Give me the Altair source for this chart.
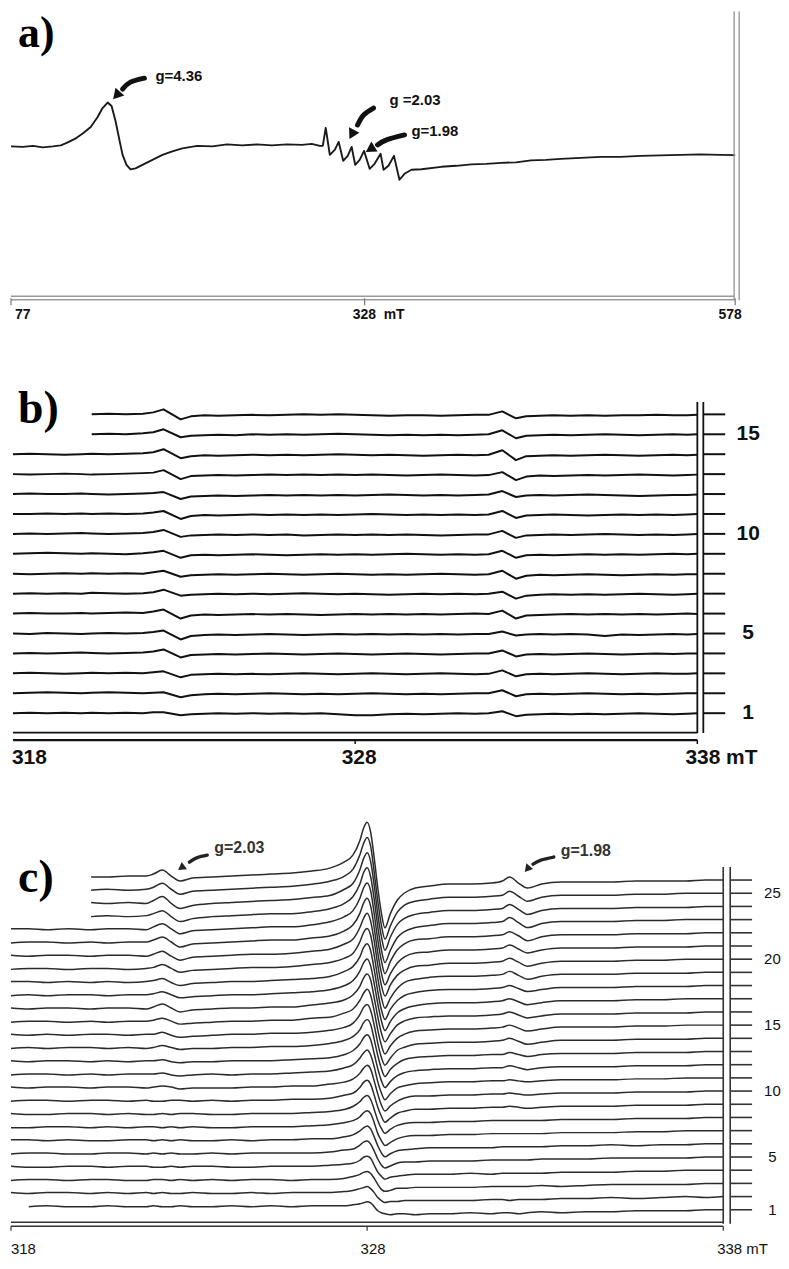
import altair as alt
import pandas as pd

# ======================= DATA =======================
# (a) wide field sweep: magnetic field (mT) and derivative EPR signal (a.u.)
a_field = [77.0, 85.5, 92.6, 99.6, 106.7, 112.4, 117.3, 122.3, 127.9, 133.6,
           138.5, 142.0, 145.6, 148.4, 151.2, 154.1, 156.2, 159.0, 161.8, 165.4,
           170.3, 177.4, 184.5, 191.5, 198.6, 209.2, 219.8, 230.4, 241.0, 251.6,
           262.2, 272.8, 283.5, 290.5, 296.2, 298.3, 300.4, 303.3, 306.8, 309.6,
           312.8, 316.0, 318.8, 321.3, 324.5, 327.6, 331.4, 334.7, 338.8, 340.8,
           344.1, 347.8, 351.5, 354.9, 359.6, 366.3, 379.7, 389.8, 399.9, 410.0,
           420.1, 430.1, 440.2, 450.3, 460.4, 473.8, 487.3, 500.7, 514.2, 527.6,
           541.1, 554.5, 568.0, 578.0]
a_signal = [0.5, 0, 1, -0.5, 0.5, 1.5, 4.5, 8, 13.5, 20,
            30, 39, 44.5, 41, 26, 6, -8, -18, -22.5, -21.5,
            -18, -13, -8, -4.5, -1.5, 1, 0.5, 2.5, 1.5, 2.5,
            1.5, 2.5, 2, 3, 1, 1, 19, -8, -3, 5,
            -14, -9, 0, -18, -13, -4, -22, -17, -7, -23,
            -19, -9, -33, -27, -23, -22.5, -20, -19, -17.5, -17,
            -16, -15.5, -13.5, -13, -12, -11, -10, -10, -9, -8.5,
            -8, -7.5, -8, -8.3]
a_tick_vals = [77, 328, 578]
a_tick_text = ["77", "328\u00a0 mT", "578"]
a_notes = ["g=4.36", "g =2.03", "g=1.98"]

# (b) 16 spectra, 318-338 mT (signal per spectrum, a.u.)
b_field = [318.0, 318.5, 319.0, 319.5, 320.0, 320.3, 320.8, 321.3, 321.8, 322.1,
           322.4, 322.9, 323.2, 323.6, 324.0, 324.5, 325.0, 325.5, 326.0, 326.5,
           327.0, 327.5, 328.0, 328.5, 329.0, 329.5, 330.0, 330.5, 331.0, 331.5,
           331.9, 332.3, 332.7, 333.0, 333.4, 333.8, 334.3, 334.8, 335.3, 335.8,
           336.3, 336.8, 337.3, 337.7, 338.0]
b01 = [0,0.5,0,0.5,0, 0.5,0,0.5,0,1, 1,-2,-1,-0.5,0, -0.5,0,-0.5,0,-0.5, 0,-1,-2,-2,-1, -0.5,-1,-0.5,0,-0.5, 0,2,-3,-1.5,-1, -0.5,-1,-0.5,-1,-0.5, 0,-0.5,-1,-0.5,0]
b02 = [0,0.5,1,0.5,0, 0.5,1,0.5,0,0.5, 1,-4,-2,-1,-0.5, -1,-0.5,0,-0.5,-1, -0.5,-1,-0.5,0,-0.5, -1,-0.5,-1,-0.5,0, 0,3,-3,-1,-0.5, -1,-0.5,0,-0.5,-1, -0.5,-1,-0.5,0,0]
b03 = [0,0.5,0,-0.5,0, 0.5,0,0.5,0,1, 2,-4,-1.5,-1,-0.5, -1,-0.5,-1,-0.5,0, -0.5,-1,-0.5,0,-0.5, -1,-0.5,0,-0.5,-1, -0.5,3,-3,-1,-0.5, -1,-0.5,0,-0.5,-1, -0.5,0,-0.5,-0.5,0]
b04 = [0,0.5,0,0.5,1, 0.5,0,0.5,1,2, 4,-4,-1.5,-1,-0.5, -1,-0.5,0,-0.5,-1, -0.5,0,-0.5,-1,-0.5, 0,-0.5,-1,-0.5,0, 0,3,-3,-1,-0.5, -1,-0.5,0,-0.5,-1, -0.5,0,-0.5,0,0]
b05 = [0,-0.5,0.5,0,-0.5, 0,0.5,0,0.5,1.5, 3,-6,-2.5,-1.5,-1, -1.5,-1,-0.5,-1,-1.5, -1,-0.5,-1,-0.5,-1, -0.5,-1,-0.5,-1,-0.5, -0.5,2,-2,-1,-0.5, -1,-0.5,-1,-2.5,-1, -1.5,-1,-0.5,-1,-0.5]
b06 = [0,0.5,0,0,0.5, 0,0.5,1,0.5,2, 4,-5,-2,-1,-1.5, -1,-0.5,-1,-0.5,-1, -1.5,-1,-0.5,-1,-0.5, -1,-0.5,-1,-0.5,0, -0.5,3,-5,-2,-1.5, -1,-0.5,-1,-0.5,-1, -0.5,-1,-0.5,0,-0.5]
b07 = [0,0.5,0,0.5,0, 1,0.5,0,0.5,1.5, 4,-2,-1,-0.5,0, -0.5,0,-0.5,0,0.5, 0,-0.5,0,-0.5,-1, -0.5,0,-0.5,0,-0.5, 0,2,-5,-2,-1, -0.5,-1,-0.5,-1,-0.5, 0,-0.5,-1,-0.5,0]
b08 = [0,-0.5,0,0.5,0, 0.5,0,0.5,0,1.5, 3,-3,-1.5,-1,-0.5, -1,-0.5,0,-0.5,-1, -0.5,0,-0.5,-1,-0.5, -1,-0.5,0,-0.5,-1, -0.5,3,-5,-2,-1, -1.5,-1,-0.5,-1,-1.5, -1,-0.5,-1,-0.5,-0.5]
b09 = [0,0.5,1,0.5,0, 0.5,0,-0.5,0.5,1.5, 3,-4,-1.5,-1,-1.5, -1,-0.5,-1,-1.5,-1, -0.5,-1,-0.5,-1,-0.5, 0,-0.5,-1,-0.5,-1, -0.5,3,-4,-1.5,-1, -1.5,-1,-0.5,-1,-0.5, -1,-0.5,0,-0.5,0]
b10 = [0,0.5,0,0.5,1, 0.5,0,0.5,1,2, 4,-3,-1.5,-1,-0.5, -1,-0.5,-1,-0.5,-1.5, -1,-0.5,-1,-0.5,-1, -0.5,-1,-1.5,-1,-0.5, -0.5,3,-4,-1.5,-1, -0.5,-1,-0.5,0,-0.5, -1,-0.5,-1,-0.5,0]
b11 = [0,0,0.5,0,0.5, 0,0.5,0,0.5,1.5, 3,-5,-2,-1,-1.5, -1,-0.5,-1,-0.5,-1, -0.5,-1,-0.5,0,-0.5, -1,-0.5,-1,-0.5,-1, -0.5,3,-4,-1.5,-1, -0.5,-1,-1.5,-1,-0.5, -1,-0.5,-1,-0.5,0]
b12 = [0,0.5,0,0,0.5, 0,-0.5,0,0.5,1, 2,-5,-2.5,-2,-1.5, -2,-1.5,-1,-1.5,-1, -1.5,-1,-1.5,-1,-0.5, -1,-1.5,-1,-1.5,-1, -0.5,3,-3,-1.5,-1, -1.5,-1,-0.5,-1,-1.5, -2,-1.5,-1,-1,-0.5]
b13 = [0,-0.5,0,0.5,0, -0.5,0,0.5,1,1.5, 4,-5,-2,-1.5,-1, -1.5,-1,-0.5,-1,-0.5, -1,-0.5,-1,-0.5,-1, -1.5,-1,-0.5,-1,-1.5, -1,2,-6,-2.5,-1.5, -2,-1.5,-1,-1.5,-1, -0.5,-1,-1.5,-1,-0.5]
b14 = [0,0.5,0,-0.5,0, 0.5,0,0.5,1,2, 5,-4,-2,-1,-1.5, -1,-0.5,-1,-0.5,-1, -0.5,0,-0.5,-1,-0.5, -1,-1.5,-1,-0.5,-1, -0.5,4,-6,-2,-1.5, -1,-1.5,-1,-0.5,-1, -1.5,-1,-0.5,-1,-0.5]
b15 = [None,None,None,None,None, 0,0.5,0,1,2, 5,-3,-1.5,-1,-0.5, -1,0,-0.5,0,-0.5, 0,0.5,0,-0.5,-1, -0.5,-1,-0.5,-1,-0.5, 0,4,-4,-1.5,-1, -0.5,-1,-0.5,0,-0.5, -1,-0.5,0,-0.5,0]
b16 = [None,None,None,None,None, 0,0.5,0,0.5,2, 5,-5,-2,-1,-1.5, -1,-0.5,-1,-0.5,0, -0.5,0,-0.5,-1,-1.5, -1,-1,-1.5,-1,-0.5, -0.5,3,-4,-2,-1.5, -1,-1.5,-1,-1.5,-1, -1,-0.5,-1,-1,-0.5]
b_tick_vals = [318, 328, 338]
b_tick_text = ["318", "328", "338 mT"]
b_numbered = [1, 5, 10, 15]

# (c) 26 spectra, 318-338 mT
c_field = [318.0, 318.5, 319.0, 319.6, 320.25, 320.7, 321.3, 321.8, 322.0, 322.25,
           322.5, 322.75, 323.1, 323.65, 324.2, 324.75, 325.3, 325.9, 326.45, 326.95,
           327.35, 327.6, 327.8, 327.9, 328.0, 328.1, 328.2, 328.3, 328.4, 328.5,
           328.65, 328.85, 329.05, 329.35, 329.75, 330.3, 330.9, 331.5, 331.8, 332.0,
           332.25, 332.5, 332.9, 333.45, 334.15, 334.85, 335.55, 336.25, 336.95, 337.5,
           338.0]
c01 = [None,3,4,3,3,4,3,3,4,3, 3,4,3,3,4,3,4,3,4,4, 4,5,6,7,8,7,3,-1,-3,-4, -5,-4,-4,-5,-4,-4,-3,-4,-3,-3, -4,-3,-2,-3,-2,-2,-1,-1,-1,0, 0]
c02 = [4,3,4,4,3,4,3,4,3,4, 3,3,4,3,3,4,3,4,4,4, 5,6,8,9,10,8,4,-1,-4,-6, -5,-5,-4,-4,-4,-4,-4,-3,-3,-4, -3,-3,-3,-2,-2,-1,-2,-1,0,-1, 0]
c03 = [3,4,4,3,4,4,3,3,4,4, 3,4,3,4,3,4,4,3,4,4, 5,7,9,11,12,10,5,-1,-6,-8, -7,-5,-5,-4,-4,-4,-4,-3,-3,-3, -3,-3,-2,-3,-2,-1,-1,-1,-1,0, 0]
c04 = [4,3,3,4,4,3,4,4,3,3, 4,3,4,4,3,3,4,4,4,5, 6,7,10,13,14,12,5,-2,-6,-9, -7,-6,-5,-4,-4,-4,-3,-4,-3,-3, -3,-3,-3,-2,-2,-2,-1,-1,0,0, 0]
c05 = [3,4,4,3,3,4,4,3,4,3, 4,3,3,4,3,4,4,4,4,5, 7,8,12,15,16,13,6,-2,-8,-11, -9,-6,-5,-5,-4,-4,-4,-3,-3,-3, -3,-3,-2,-2,-2,-1,-1,-1,-1,0, 0]
c06 = [4,4,3,4,3,3,4,4,3,4, 3,4,3,3,4,3,4,4,5,5, 7,9,13,16,18,15,7,-2,-9,-13, -10,-7,-6,-5,-4,-4,-4,-4,-3,-3, -3,-3,-3,-2,-2,-1,-2,-1,-1,0, 0]
c07 = [3,3,4,4,3,4,3,4,4,3, 4,3,4,3,3,4,4,4,5,6, 8,10,14,18,20,17,8,-3,-10,-15, -12,-8,-6,-5,-5,-4,-4,-3,-3,-3, -3,-3,-3,-2,-2,-2,-1,-1,0,0, 0]
c08 = [4,3,3,4,4,3,4,3,3,4, 3,4,4,3,3,4,4,4,5,6, 8,11,16,20,22,18,8,-3,-11,-16, -12,-8,-6,-5,-5,-4,-4,-3,-3,-3, -3,-3,-3,-2,-2,-2,-1,-1,-1,0, 0]
c09 = [3,4,4,3,4,4,3,4,3,3, 4,4,3,4,3,4,4,5,5,6, 9,11,17,22,24,20,9,-3,-12,-18, -14,-9,-7,-5,-5,-4,-4,-3,-3,-2, -3,-4,-3,-2,-2,-2,-1,-1,-1,0, 0]
c10 = [4,3,4,4,3,4,4,3,4,5, 4,2,3,3,3,4,4,5,5,7, 9,12,18,23,26,22,10,-3,-14,-20, -15,-10,-7,-5,-5,-4,-4,-3,-3,-2, -3,-4,-3,-2,-2,-2,-1,-1,-1,0, 0]
c11 = [3,4,4,3,4,3,4,4,4,5, 3,2,3,4,3,4,4,5,6,7, 10,13,20,25,28,23,11,-4,-15,-22, -16,-10,-8,-6,-5,-4,-4,-3,-3,-2, -3,-4,-3,-2,-2,-2,-1,-1,0,0, 0]
c12 = [4,3,4,4,3,4,3,4,4,5, 3,2,3,3,4,4,4,5,6,7, 10,14,21,27,30,25,11,-4,-16,-23, -17,-11,-8,-6,-5,-4,-4,-3,-3,-1, -3,-5,-3,-2,-2,-2,-1,-1,-1,0, 0]
c13 = [3,4,3,4,4,3,4,3,4,6, 4,2,3,3,4,4,5,5,6,8, 11,15,22,29,32,27,12,-4,-17,-25, -18,-12,-8,-6,-5,-4,-4,-3,-3,-1, -3,-5,-3,-2,-2,-2,-1,-1,-1,0, 0]
c14 = [4,3,4,3,4,4,3,4,4,6, 3,1,2,3,4,4,5,5,6,8, 11,15,24,31,34,28,13,-5,-19,-27, -20,-12,-9,-6,-5,-4,-4,-3,-2,0, -3,-6,-4,-2,-2,-2,-1,-1,-1,0, 0]
c15 = [3,4,4,3,4,3,4,4,5,7, 4,1,2,3,4,4,5,5,7,8, 12,16,25,32,36,30,14,-5,-20,-29, -21,-13,-9,-6,-5,-4,-4,-3,-2,0, -3,-6,-4,-2,-2,-2,-1,-1,0,0, 0]
c16 = [4,3,4,4,3,4,4,3,5,8, 4,0,2,3,4,4,5,5,7,9, 12,17,26,34,38,32,14,-5,-21,-30, -22,-13,-9,-6,-5,-4,-4,-3,-2,0, -3,-6,-4,-2,-2,-2,-1,-1,-1,0, 0]
c17 = [3,4,3,4,4,3,4,4,5,7, 4,1,2,3,4,4,5,6,7,9, 13,18,28,36,40,33,15,-5,-22,-32, -23,-14,-10,-7,-5,-4,-4,-3,-2,0, -3,-6,-4,-2,-2,-2,-1,-1,0,0, 0]
c18 = [4,4,3,4,3,4,3,4,5,7, 3,0,2,3,4,4,5,6,7,9, 14,19,29,38,42,35,16,-6,-24,-34, -24,-15,-10,-7,-5,-4,-4,-3,-2,0, -3,-6,-4,-2,-2,-2,-1,-1,-1,0, 0]
c19 = [3,4,4,3,4,4,3,4,5,8, 4,0,2,3,4,5,5,6,8,10, 14,19,31,40,44,37,17,-6,-25,-36, -26,-16,-10,-7,-5,-4,-4,-3,-2,1, -3,-7,-4,-2,-2,-2,-1,-1,-1,0, 0]
c20 = [4,3,4,4,3,4,4,3,5,8, 3,-1,2,3,4,5,5,6,8,10, 15,20,32,41,46,38,18,-6,-26,-37, -26,-16,-11,-7,-6,-4,-4,-3,-2,1, -3,-7,-4,-2,-2,-2,-1,-1,0,0, 0]
c21 = [3,4,4,3,4,3,4,4,6,9, 4,-1,2,3,4,5,6,6,8,10, 15,21,33,43,48,40,18,-7,-27,-39, -28,-17,-11,-7,-6,-4,-4,-3,-2,1, -3,-7,-4,-2,-2,-2,-1,-1,-1,0, 0]
c22 = [4,4,3,4,3,4,4,3,6,9, 4,-1,2,3,4,5,6,6,8,11, 16,22,35,45,50,42,19,-7,-28,-41, -29,-17,-11,-7,-6,-4,-4,-3,-2,1, -3,-8,-4,-2,-2,-2,-1,-1,-1,0, 0]
c23 = [None,None,None,None,3,4,3,4,6,9, 3,-2,1,3,4,5,6,6,8,11, 16,23,36,47,52,43,20,-7,-30,-43, -31,-18,-12,-8,-6,-4,-4,-3,-2,2, -3,-8,-4,-2,-2,-2,-1,-1,0,0, 0]
c24 = [None,None,None,None,4,3,4,3,6,10, 3,-2,1,3,4,5,6,7,9,11, 17,23,37,48,54,45,21,-8,-30,-44, -31,-18,-12,-8,-6,-4,-4,-3,-2,2, -3,-8,-4,-2,-2,-2,-1,-1,-1,0, 0]
c25 = [None,None,None,None,3,4,3,4,6,10, 4,-1,2,3,4,5,6,7,9,12, 17,24,39,50,56,47,21,-8,-32,-46, -33,-19,-12,-8,-6,-4,-4,-3,-2,2, -3,-8,-4,-2,-2,-2,-1,-1,0,0, 0]
c26 = [None,None,None,None,3,3,4,4,6,10, 4,-1,2,3,4,5,6,7,9,12, 18,25,40,52,58,48,22,-8,-33,-48, -34,-20,-13,-8,-6,-4,-4,-3,-1,3, -3,-8,-4,-2,-2,-2,-1,-1,-1,0, 0]
c_tick_vals = [318, 328, 338]
c_tick_text = ["318", "328", "338 mT"]
c_numbered = [1, 5, 10, 15, 20, 25]
c_notes = ["g=2.03", "g=1.98"]

# ======================= BUILD =======================
B_STEP = 20.0
C_STEP = 13.24
b_traces = [b01, b02, b03, b04, b05, b06, b07, b08, b09, b10, b11, b12, b13, b14, b15, b16]
c_traces = [c01, c02, c03, c04, c05, c06, c07, c08, c09, c10, c11, c12, c13,
            c14, c15, c16, c17, c18, c19, c20, c21, c22, c23, c24, c25, c26]


def stack(field, traces, step):
    rows = []
    for k, tr in enumerate(traces, start=1):
        for f, v in zip(field, tr):
            if v is not None:
                rows.append({"x": f, "y": (k - 1) * step + v, "trace": k})
    return pd.DataFrame(rows)


W = 773
HA, HB, HC = 352, 430, 470

xa = alt.Scale(domain=[77, 328, 578, 609], range=[0, 355, 727, 773], nice=False, zero=False)
ya = alt.Scale(domain=[-216, 136], nice=False, zero=False)
xb = alt.Scale(domain=[317.942, 340.445], nice=False, zero=False)
yb = alt.Scale(domain=[-77.5, 352.5], nice=False, zero=False)
xc = alt.Scale(domain=[318, 339.622], nice=False, zero=False)
yc = alt.Scale(domain=[-49, 421], nice=False, zero=False)


def exy(xs, ys):
    return dict(x=alt.X("x:Q", scale=xs, axis=None), y=alt.Y("y:Q", scale=ys, axis=None))


def hlines(xs, ys, x0, x1, yv, color, w):
    d = pd.DataFrame({"x": [x0] * len(yv), "x2": [x1] * len(yv), "y": yv})
    return alt.Chart(d).mark_rule(color=color, strokeWidth=w).encode(**exy(xs, ys), x2="x2:Q")


def vlines(xs, ys, xv, y0, y1, color, w):
    d = pd.DataFrame({"x": xv, "y": [y0] * len(xv), "y2": [y1] * len(xv)})
    return alt.Chart(d).mark_rule(color=color, strokeWidth=w).encode(**exy(xs, ys), y2="y2:Q")


def texts(xs, ys, xv, yv, tv, align="left", dx=0, size=14, weight="bold",
          font="Liberation Sans", color="#111", baseline="middle"):
    d = pd.DataFrame({"x": xv, "y": yv, "t": tv})
    return alt.Chart(d).mark_text(align=align, baseline=baseline, dx=dx, fontSize=size,
                                  fontWeight=weight, font=font, color=color).encode(
        **exy(xs, ys), text="t:N")


def arrow(xs, ys, xv, yv, hx, hy, angle, color="#111", w=4.0, size=90):
    d = pd.DataFrame({"x": xv, "y": yv, "i": list(range(len(xv)))})
    shaft = alt.Chart(d).mark_line(color=color, strokeWidth=w, strokeCap="round",
                                   interpolate="cardinal").encode(**exy(xs, ys), order="i:Q")
    h = pd.DataFrame({"x": [hx], "y": [hy]})
    head = alt.Chart(h).mark_point(shape="triangle", filled=True, size=size, angle=angle,
                                   color=color, opacity=1).encode(**exy(xs, ys))
    return [shaft, head]


# ---------- panel a ----------
a_df = pd.DataFrame({"x": a_field, "y": a_signal})
a_line = alt.Chart(a_df).mark_line(color="#1a1a1a", strokeWidth=1.9, strokeJoin="round").encode(**exy(xa, ya))
a_layers = [
    a_line,
    vlines(xa, ya, [577.3, 580.7], -154, 136, "#9a9a9a", 1.4),
    hlines(xa, ya, 77, 577.3, [-150, -153.5], "#9a9a9a", 1.4),
    vlines(xa, ya, a_tick_vals, -152, -159, "#777777", 1.2),
    texts(xa, ya, [a_tick_vals[0]], [-169], [a_tick_text[0]], align="left", dx=4),
    texts(xa, ya, [a_tick_vals[1]], [-169], [a_tick_text[1]], align="left", dx=-12),
    texts(xa, ya, [a_tick_vals[2]], [-169], [a_tick_text[2]], align="center", dx=-5),
    texts(xa, ya, [82], [100], ["a)"], size=44, font="Liberation Serif", baseline="alphabetic", color="#000"),
    texts(xa, ya, [179.5], [71], [a_notes[0]], size=15),
    texts(xa, ya, [344.8], [47], [a_notes[1]], size=15),
    texts(xa, ya, [359.6], [16], [a_notes[2]], size=15),
]
a_layers += arrow(xa, ya, [171.7, 161.8, 156.2], [69, 65, 58], 152.7, 53, 222, w=5, size=140)
a_layers += arrow(xa, ya, [334.0, 327.3, 323.0], [39, 32, 22], 319.5, 14, 208, w=5, size=140)
a_layers += arrow(xa, ya, [354.9, 342.8, 336.7], [12, 7, 2], 332.7, -1.5, 238, w=5, size=140)
panel_a = alt.layer(*a_layers).properties(width=W, height=HA)

# ---------- panel b ----------
b_df = stack(b_field, b_traces, B_STEP)
b_lines = alt.Chart(b_df).mark_line(color="#111", strokeWidth=2.0, strokeJoin="round").encode(
    **exy(xb, yb), detail="trace:N")
b_offsets = [(k - 1) * B_STEP for k in range(1, len(b_traces) + 1)]
b_layers = [
    b_lines,
    vlines(xb, yb, [338, 338.175], -20, 312.5, "#111", 1.8),
    hlines(xb, yb, 318, 338, [-19.5], "#111", 1.6),
    hlines(xb, yb, 318, 338, [-27], "#111", 2.2),
    vlines(xb, yb, [328, 338], -27, -31, "#111", 1.5),
    hlines(xb, yb, 338.175, 338.815, b_offsets, "#111", 2.0),
    texts(xb, yb, [b_tick_vals[0]], [-45.5], [b_tick_text[0]], align="left", dx=-1, size=21),
    texts(xb, yb, [b_tick_vals[1]], [-45.5], [b_tick_text[1]], align="center", dx=4, size=21),
    texts(xb, yb, [b_tick_vals[2]], [-45.5], [b_tick_text[2]], align="left", dx=-12, size=21),
    texts(xb, yb, [339.485] * len(b_numbered), [(n - 1) * B_STEP for n in b_numbered],
          [str(n) for n in b_numbered], align="center", size=21),
    texts(xb, yb, [318.15], [291.5], ["b)"], size=46, font="Liberation Serif", baseline="alphabetic", color="#000"),
]
panel_b = alt.layer(*b_layers).properties(width=W, height=HB)

# ---------- panel c ----------
c_df = stack(c_field, c_traces, C_STEP)
c_lines = alt.Chart(c_df).mark_line(color="#2b2b2b", strokeWidth=1.5, interpolate="monotone").encode(
    **exy(xc, yc), detail="trace:N")
c_offsets = [(k - 1) * C_STEP for k in range(1, len(c_traces) + 1)]
c_layers = [
    c_lines,
    vlines(xc, yc, [338, 338.196], -14, 344, "#333", 1.6),
    hlines(xc, yc, 318, 338, [-12.5, -16.5], "#333", 1.4),
    vlines(xc, yc, c_tick_vals, -16.5, -21, "#333", 1.2),
    hlines(xc, yc, 338.196, 338.81, c_offsets, "#333", 1.6),
    texts(xc, yc, [c_tick_vals[0]], [-39], [c_tick_text[0]], align="left", dx=0, size=15, weight="normal", color="#111"),
    texts(xc, yc, [c_tick_vals[1]], [-39], [c_tick_text[1]], align="center", dx=6, size=15, weight="normal", color="#111"),
    texts(xc, yc, [c_tick_vals[2]], [-39], [c_tick_text[2]], align="left", dx=-6, size=15, weight="normal", color="#111"),
    texts(xc, yc, [339.38] * len(c_numbered), [(n - 1) * C_STEP for n in c_numbered],
          [str(n) for n in c_numbered], align="center", size=15, weight="normal", color="#111"),
    texts(xc, yc, [318.2], [319], ["c)"], size=46, font="Liberation Serif", baseline="alphabetic", color="#000"),
    texts(xc, yc, [323.71], [363], [c_notes[0]], size=16, weight="bold", color="#333"),
    texts(xc, yc, [333.44], [360], [c_notes[1]], size=16, weight="bold", color="#333"),
]
c_layers += arrow(xc, yc, [323.51, 323.23, 323.01], [356, 353.5, 349], 322.81, 344, 234, color="#222", w=3.5, size=80)
c_layers += arrow(xc, yc, [333.24, 332.88, 332.66], [354, 351, 347], 332.52, 343, 220, color="#222", w=3.5, size=80)
panel_c = alt.layer(*c_layers).properties(width=W, height=HC)

chart = alt.vconcat(panel_a, panel_b, panel_c, spacing=0).properties(
    padding={"left": 0, "top": 0, "right": 0, "bottom": 0},
    bounds="flush",
).configure_view(stroke=None)
chart.save("out.html", embed_options={"renderer": "svg", "actions": False})
